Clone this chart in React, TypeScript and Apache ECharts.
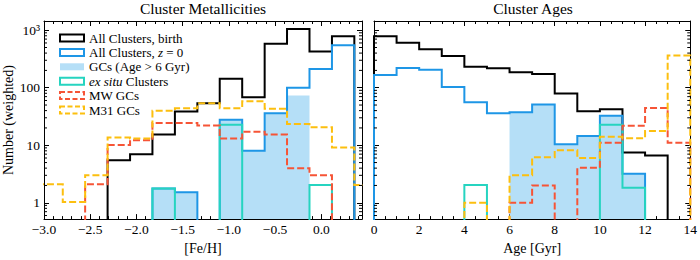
import React, { useEffect, useRef } from 'react';
import * as echarts from 'echarts';

const FONT = '"Liberation Serif", "Times New Roman", serif';

// ---- Metallicity panel data (bin edges + weighted counts) ----
const feHEdges = [-3.04, -2.797, -2.555, -2.312, -2.069, -1.827, -1.584, -1.341, -1.099, -0.856, -0.613, -0.371, -0.128, 0.115, 0.357, 0.6];
const feHBirth = [0, 0, 0, 5.5, 7.0, 15.4, 38.6, 53.5, 143, 68, 581, 1048, 425, 784, 0];
const feHNow = [0, 0, 0, 0, 0, 1.77, 1.52, 0, 27.8, 8.0, 36.1, 100, 212, 548, 0];
const feHGC = [0, 0, 0, 0, 0, 1.77, 1.52, 0, 27.5, 8.0, 36, 73, 0, 0, 0];
const feHExSitu = [0, 0, 0, 0, 0, 1.77, 0, 0, 22.8, 0, 0, 0, 2.03, 0, 0];
const feHMW = [0, 0, 2.1, 10.1, 12.2, 24.4, 24.4, 22, 13.1, 17.1, 15.3, 4.0, 3.0, 0, 0];
const feHM31 = [2.1, 1.03, 3.0, 13.7, 13.1, 39.7, 44, 53.5, 44, 58, 43, 23.5, 20.6, 9.1, 2.03];

// ---- Age panel data ----
const ageEdges = [0, 1, 2, 3, 4, 5, 6, 7, 8, 9, 10, 11, 12, 13, 14];
const ageBirth = [784, 605, 465, 357, 232, 218, 186, 174, 79, 39, 42.3, 7.5, 6.6, 0];
const ageNow = [167, 220, 206, 103, 55.7, 36, 37.6, 51, 10.4, 14.5, 32.5, 3.2, 0, 0];
const ageGC = [0, 0, 0, 0, 0, 0, 37.6, 51, 10.4, 14.5, 32.5, 3.2, 0, 0];
const ageExSitu = [0, 0, 0, 0, 2.03, 0, 0, 0, 0, 0, 22.8, 1.82, 0, 0];
const ageMW = [0, 0, 0, 0, 0, 0, 1.0, 2.0, 0, 4.05, 11.1, 21.9, 44.5, 11.1];
const ageM31 = [0, 0, 0, 0, 1.0, 0, 3.0, 6.2, 8.2, 6.0, 14.1, 13.2, 17.6, 362];

// ---- axis ticks / labels ----
const logMinorTicks = [0.6, 0.7, 0.8, 0.9, 2, 3, 4, 5, 6, 7, 8, 9, 20, 30, 40, 50, 60, 70, 80, 90, 200, 300, 400, 500, 600, 700, 800, 900];
const logLabels: Record<number, string> = { 1: '1', 10: '10', 100: '100', 1000: '10\u00b3' };

const NAMES = ['All Clusters, birth', 'All Clusters, z = 0', 'GCs (Age > 6 Gyr)', 'ex situ Clusters', 'MW GCs', 'M31 GCs'];
const COLORS = ['#000000', '#1e96e6', '#b5dff7', '#26d4c0', '#f65436', '#fcbf0f'];

const Y_MIN = 0.52;
const Y_MAX = 1445;
const FLOOR = 0.05;
const FEH_RANGE = [-3.0, 0.44];
const AGE_RANGE = [0, 14];

function stepOutline(edges: number[], counts: number[]) {
  const pts: number[][] = [[edges[0], FLOOR]];
  counts.forEach((c, i) => {
    const v = c > 0 ? c : FLOOR;
    pts.push([edges[i], v], [edges[i + 1], v]);
  });
  pts.push([edges[edges.length - 1], FLOOR]);
  return pts;
}

const DASH = [7, 3];

function panelSeries(g: number, edges: number[], sets: number[][], xr: number[]) {
  const xi = g * 2;
  const yi = g * 2;
  const out: any[] = [];
  out.push({
    type: 'line', name: NAMES[2], xAxisIndex: xi, yAxisIndex: yi,
    data: stepOutline(edges, sets[2]), showSymbol: false, symbol: 'none', clip: true, silent: true,
    lineStyle: { width: 0, color: COLORS[2] }, itemStyle: { color: COLORS[2] },
    areaStyle: { color: COLORS[2], opacity: 1, origin: 'start' }, z: 1,
  });
  const order = [0, 1, 3, 4, 5];
  order.forEach((k, j) => {
    out.push({
      type: 'line', name: NAMES[k], xAxisIndex: xi, yAxisIndex: yi,
      data: stepOutline(edges, sets[k]), showSymbol: false, symbol: 'none', clip: true, silent: true,
      lineStyle: { width: 2, color: COLORS[k], type: k >= 4 ? DASH : 'solid', join: 'miter' },
      itemStyle: { color: COLORS[k] }, z: 2 + j,
    });
  });
  out.push({
    type: 'custom', xAxisIndex: xi, yAxisIndex: yi, silent: true, clip: false, z: 20,
    data: logMinorTicks.map((v) => [xr[0], v]),
    encode: { x: 0, y: 1 },
    renderItem: (_p: any, api: any) => {
      const v = api.value(1);
      const l = api.coord([xr[0], v]);
      const r = api.coord([xr[1], v]);
      return {
        type: 'group',
        children: [
          { type: 'line', shape: { x1: l[0], y1: l[1], x2: l[0] + 3, y2: l[1] }, style: { stroke: '#000', lineWidth: 1 } },
          { type: 'line', shape: { x1: r[0] - 3, y1: r[1], x2: r[0], y2: r[1] }, style: { stroke: '#000', lineWidth: 1 } },
        ],
      };
    },
  });
  return out;
}

const lineBlack = { color: '#000', width: 1 };

function xAxisDef(grid: number, pos: 'top' | 'bottom', range: number[], interval: number, split: number, extra: any) {
  return {
    type: 'value', gridIndex: grid, position: pos, min: range[0], max: range[1], interval,
    axisLine: { show: true, onZero: false, lineStyle: lineBlack },
    axisTick: { show: true, inside: true, length: 5, lineStyle: lineBlack },
    minorTick: { show: true, splitNumber: split, length: 3, lineStyle: lineBlack },
    splitLine: { show: false }, minorSplitLine: { show: false },
    axisLabel: { show: false },
    ...extra,
  };
}

function yAxisDef(grid: number, pos: 'left' | 'right', extra: any) {
  return {
    type: 'log', logBase: 10, gridIndex: grid, position: pos, min: Y_MIN, max: Y_MAX,
    axisLine: { show: true, onZero: false, lineStyle: lineBlack },
    axisTick: { show: true, inside: true, length: 5, lineStyle: lineBlack },
    minorTick: { show: false }, splitLine: { show: false }, minorSplitLine: { show: false },
    axisLabel: { show: false },
    ...extra,
  };
}

function logLabel(v: number) {
  const r = Math.round(v);
  if (Math.abs(v - r) < 1e-6 * Math.max(1, v) && logLabels[r] !== undefined) return logLabels[r];
  return '';
}

const labelStyle = { color: '#000', fontFamily: FONT, fontSize: 13.5 };
const nameStyle = { color: '#000', fontFamily: FONT, fontSize: 14 };

export default function App() {
  const ref = useRef<HTMLDivElement>(null);
  useEffect(() => {
    if (!ref.current) return;
    const chart = echarts.init(ref.current, undefined, { renderer: 'svg' });
    const legendItem = (i: number) => {
      const c = COLORS[i];
      if (i === 2) return { name: NAMES[i], itemStyle: { color: c, borderWidth: 0 } };
      return {
        name: NAMES[i],
        itemStyle: { color: 'rgba(0,0,0,0)', borderColor: c, borderWidth: 2, borderType: i >= 4 ? [5, 2.5] : 'solid' },
      };
    };
    const option: any = {
      animation: false,
      backgroundColor: '#ffffff',
      textStyle: { fontFamily: FONT, color: '#000' },
      grid: [
        { left: 44, top: 21, width: 318, height: 202 },
        { left: 374, top: 21, width: 318, height: 202 },
      ],
      xAxis: [
        xAxisDef(0, 'bottom', FEH_RANGE, 0.5, 5, {
          axisLabel: {
            show: true, ...labelStyle, margin: 3, showMaxLabel: false,
            formatter: (v: number) => (Math.abs(v) < 1e-9 ? '0.0' : v.toFixed(1).replace('-', '\u2212')),
          },
          name: '[Fe/H]', nameLocation: 'middle', nameGap: 20, nameTextStyle: nameStyle,
        }),
        xAxisDef(0, 'top', FEH_RANGE, 0.5, 5, {}),
        xAxisDef(1, 'bottom', AGE_RANGE, 2, 4, {
          axisLabel: { show: true, ...labelStyle, margin: 3, formatter: (v: number) => String(Math.round(v)) },
          name: 'Age [Gyr]', nameLocation: 'middle', nameGap: 20, nameTextStyle: nameStyle,
        }),
        xAxisDef(1, 'top', AGE_RANGE, 2, 4, {}),
      ],
      yAxis: [
        yAxisDef(0, 'left', {
          axisLabel: { show: true, ...labelStyle, margin: 4, showMinLabel: false, showMaxLabel: false, formatter: logLabel },
          name: 'Number (weighted)', nameLocation: 'middle', nameGap: 29, nameTextStyle: nameStyle,
        }),
        yAxisDef(0, 'right', {}),
        yAxisDef(1, 'left', {}),
        yAxisDef(1, 'right', {}),
      ],
      legend: {
        show: true, orient: 'vertical', left: 54, top: 26, icon: 'rect',
        itemWidth: 24, itemHeight: 7, itemGap: 0.4, selectedMode: false,
        textStyle: {
          color: '#000', fontFamily: FONT, fontSize: 13, lineHeight: 14,
          rich: { i: { fontStyle: 'italic', fontFamily: FONT, fontSize: 13, lineHeight: 14, color: '#000' } },
        },
        formatter: (name: string) => {
          if (name === NAMES[1]) return 'All Clusters, {i|z} = 0';
          if (name === NAMES[3]) return '{i|ex situ} Clusters';
          return name;
        },
        data: NAMES.map((_, i) => legendItem(i)),
      },
      graphic: [
        { type: 'text', x: 203, y: 0, silent: true, style: { text: 'Cluster Metallicities', fill: '#000', font: `15.5px ${FONT}`, textAlign: 'center', textVerticalAlign: 'top', align: 'center', verticalAlign: 'top' } },
        { type: 'text', x: 533, y: 0, silent: true, style: { text: 'Cluster Ages', fill: '#000', font: `15.5px ${FONT}`, textAlign: 'center', textVerticalAlign: 'top', align: 'center', verticalAlign: 'top' } },
      ],
      series: [
        ...panelSeries(0, feHEdges, [feHBirth, feHNow, feHGC, feHExSitu, feHMW, feHM31], FEH_RANGE),
        ...panelSeries(1, ageEdges, [ageBirth, ageNow, ageGC, ageExSitu, ageMW, ageM31], AGE_RANGE),
      ],
    };
    chart.setOption(option);
    return () => chart.dispose();
  }, []);
  return (
    <div style={{ position: 'fixed', left: 0, top: 0, width: 700, height: 260, background: '#fff' }}>
      <div ref={ref} style={{ width: 700, height: 260 }} />
    </div>
  );
}
